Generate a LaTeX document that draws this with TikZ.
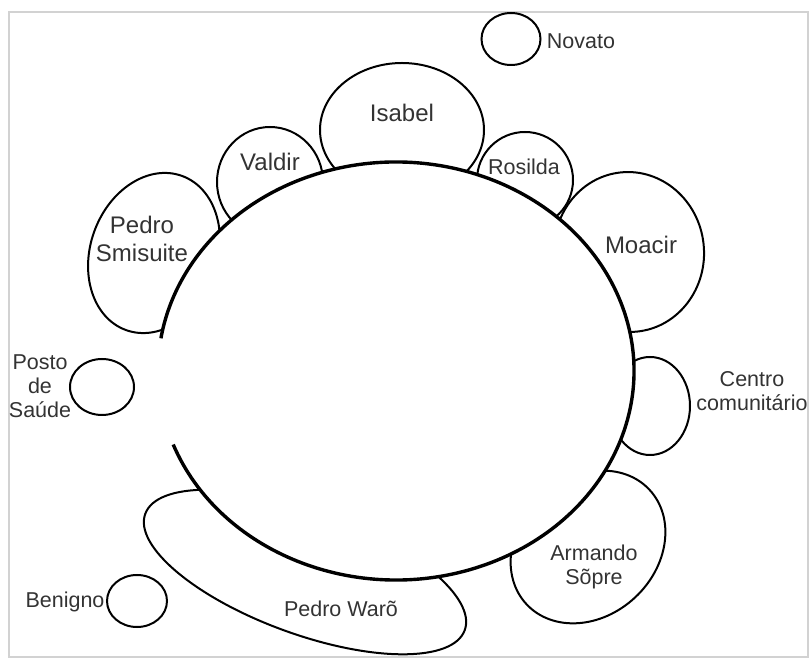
\documentclass[tikz,border=0pt]{standalone}
\usepackage{fontspec}
\setmainfont{Liberation Sans}
\begin{document}
\begin{tikzpicture}[x=0.5pt,y=0.5pt,
  ring/.style={line width=1pt},
  hub/.style={line width=1.7pt},
  big/.style={inner sep=0pt,align=center,text=black!80,font=\fontsize{12}{14}\selectfont},
  small/.style={inner sep=0pt,align=center,text=black!80,font=\fontsize{10.75}{12}\selectfont}]
\useasboundingbox (0,0) rectangle (809,659);
\draw[gray!35,line width=0.6pt] (9,2) rectangle (808,647);

% satellites: x/y/x radius/y radius/angle
\foreach \cx/\cy/\rx/\ry/\ang in {511/620/29.5/26/0, 402/529/82/67/0,
    270/477/53/55/0, 525/479/48/48/0, 629/407/75/80/6,
    154/406/63.5/82/-20, 102/272/32/28/0, 650/253/40/49/0,
    588/112/84/69/43, 305/87/170/62/-20, 137/58/30/26/0}
  \draw[ring,rotate around={\ang:(\cx,\cy)}] (\cx,\cy) ellipse [x radius=\rx, y radius=\ry];

% the big round, open on the left
\fill[white] (396,288) ellipse [x radius=238, y radius=209];
\draw[hub] (396,288) ++(200.6:238 and 209)
  arc [start angle=200.6, end angle=531, x radius=238, y radius=209];

\node[small] (novato) at (581,618) {Novato};
\node[big] (isabel) at (402,546) {Isabel};
\node[big] (valdir) at (270,497) {Valdir};
\node[small] (rosilda) at (524,492) {Rosilda};
\node[big] (smisuite) at (142,420) {Pedro\\Smisuite};
\node[big] (moacir) at (641,414) {Moacir};
\node[small] (posto) at (40,273) {Posto\\de\\Saúde};
\node[small] (centro) at (752,268) {Centro\\comunitário};
\node[small] (armando) at (594,92) {Armando\\Sõpre};
\node[small] (waro) at (341,50) {Pedro Warõ};
\node[small] (benigno) at (65,57) {Benigno};
\end{tikzpicture}
\end{document}
